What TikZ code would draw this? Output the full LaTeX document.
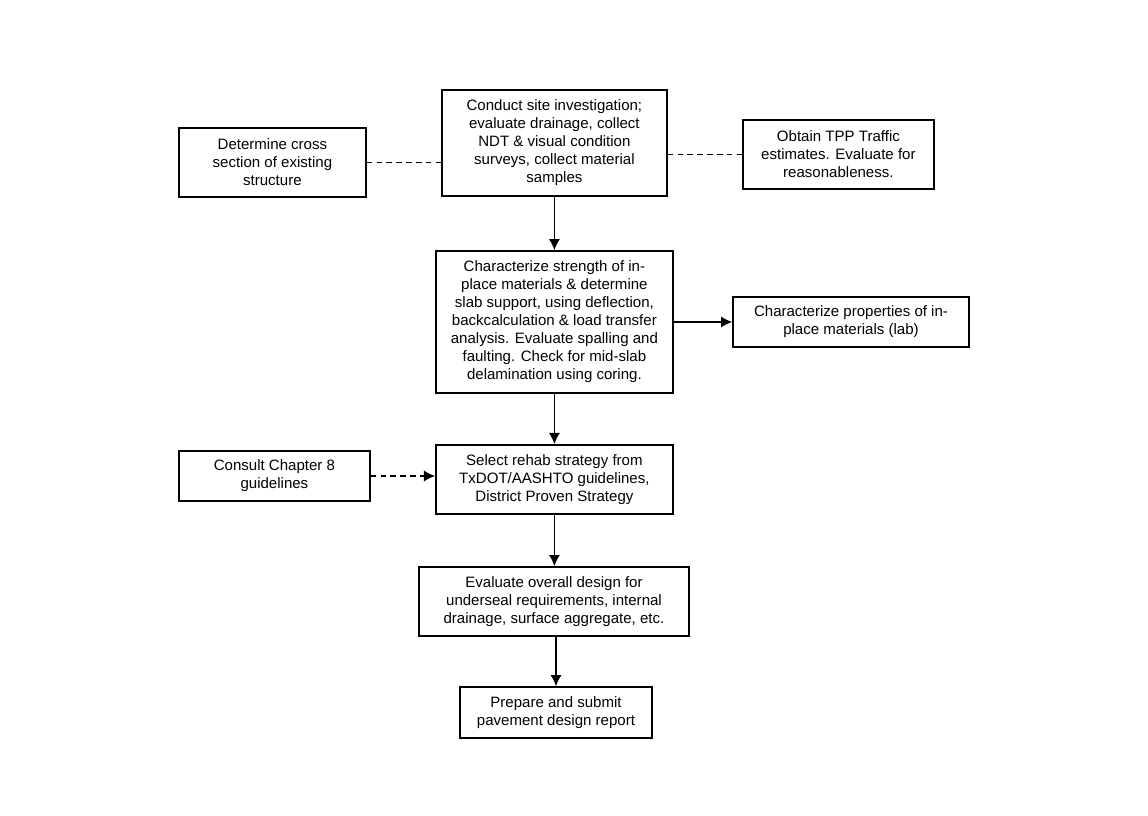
\documentclass[tikz,border=0pt]{standalone}
\usepackage{fontspec}
\setmainfont{Liberation Sans}
\usetikzlibrary{arrows.meta,positioning,calc}
\tikzset{>={Latex[length=2.8mm,width=2.8mm]}}
\tikzset{stepbox/.style={draw,line width=1.1pt,align=center,inner sep=2pt,
  font=\fontsize{10.7}{12.8}\selectfont},
  dashline/.style={dash pattern=on 4pt off 3pt}}

\begin{document}
\begin{tikzpicture}[line width=1.1pt]
\useasboundingbox (0,0) rectangle (28.7,20.375);

\node [stepbox,minimum width=5.625cm,minimum height=2.65cm] (site) at (13.86,16.8) {Conduct site investigation;\\evaluate drainage, collect\\NDT \& visual condition\\surveys, collect material\\samples};
\node [stepbox,minimum width=4.675cm,minimum height=1.725cm] (cross) at (6.81,16.31) {Determine cross\\section of existing\\structure};
\node [stepbox,minimum width=4.775cm,minimum height=1.725cm] (traffic) at (20.96,16.51) {Obtain TPP Traffic\\estimates. Evaluate for\\reasonableness.};
\node [stepbox,minimum width=5.925cm,minimum height=3.55cm] (strength) at (13.86,12.325) {Characterize strength of in-\\place materials \& determine\\slab support, using deflection,\\backcalculation \& load transfer\\analysis. Evaluate spalling and\\faulting. Check for mid-slab\\delamination using coring.};
\node [stepbox,minimum width=5.9cm,minimum height=1.25cm] (lab) at (21.275,12.325) {Characterize properties of in-\\place materials (lab)};
\node [stepbox,minimum width=5.925cm,minimum height=1.725cm] (select) at (13.86,8.39) {Select rehab strategy from\\TxDOT/AASHTO guidelines,\\District Proven Strategy};
\node [stepbox,minimum width=4.775cm,minimum height=1.25cm] (chapter) at (6.86,8.475) {Consult Chapter 8\\guidelines};
\node [stepbox,minimum width=6.75cm,minimum height=1.725cm] (overall) at (13.85,5.3375) {Evaluate overall design for\\underseal requirements, internal\\drainage, surface aggregate, etc.};
\node [stepbox,minimum width=4.8cm,minimum height=1.275cm] (report) at (13.9,2.5625) {Prepare and submit\\pavement design report};

\begin{scope}[line width=1.1pt]
\draw[dashline] (cross.east) to (cross.east -| site.west);
\draw[dashline] (traffic.west -| site.east) to (traffic.west);
\draw[->] (site) to (strength);
\draw[->] (strength.east |- lab.west) to (lab.west);
\draw[->] (strength) to (select);
\draw[->,dashline] (chapter.east) to (chapter.east -| select.west);
\draw[->] (select.south) to (select.south |- overall.north);
\draw[->] (overall.south -| report.north) to (report.north);
\end{scope}

\end{tikzpicture}
\end{document}
